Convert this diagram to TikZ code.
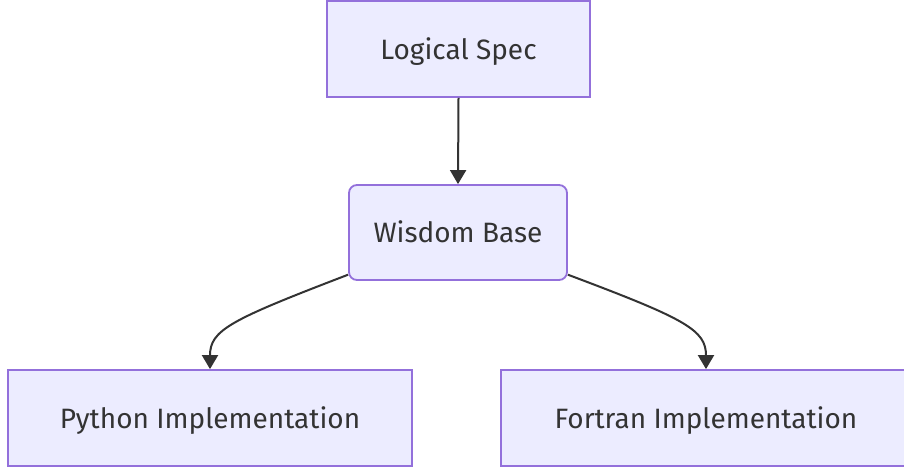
\documentclass[tikz,border=0pt]{standalone}
\usepackage{fontspec}
\setmainfont{Fira Sans}
\usetikzlibrary{arrows.meta}
\definecolor{boxfill}{HTML}{ECECFF}
\definecolor{boxline}{HTML}{9370DB}
\definecolor{ink}{HTML}{333333}
\tikzset{
  procbox/.style={rectangle, draw=boxline, fill=boxfill, line width=1.8pt,
    text=ink, font=\fontsize{28}{32}\selectfont, inner sep=0pt,
    text height=20pt, text depth=0pt},
  link/.style={draw=ink, line width=2pt,
    -{Triangle[width=16pt,length=14pt]}}
}
\begin{document}
\begin{tikzpicture}[x=1pt,y=-1pt]
  \clip (0,0) rectangle (904,467);
  \fill[white] (0,0) rectangle (904,467);
  \node[procbox, minimum width=263pt, minimum height=96pt] (spec) at (458.5,49) {Logical Spec};
  \node[procbox, rounded corners=8pt, minimum width=218pt, minimum height=95pt] (wisdom) at (458,232.5) {Wisdom Base};
  \node[procbox, minimum width=404pt, minimum height=96pt] (python) at (210,418) {Python Implementation};
  \node[procbox, minimum width=410pt, minimum height=96pt] (fortran) at (706,418) {Fortran Implementation};
  \draw[link] (spec.south) -- (wisdom.north);
  \draw[link] (wisdom.-159) .. controls (230,320) and (210,330) .. (python.north);
  \draw[link] (wisdom.-21) .. controls (686,319) and (706,330) .. (fortran.north);
\end{tikzpicture}
\end{document}
